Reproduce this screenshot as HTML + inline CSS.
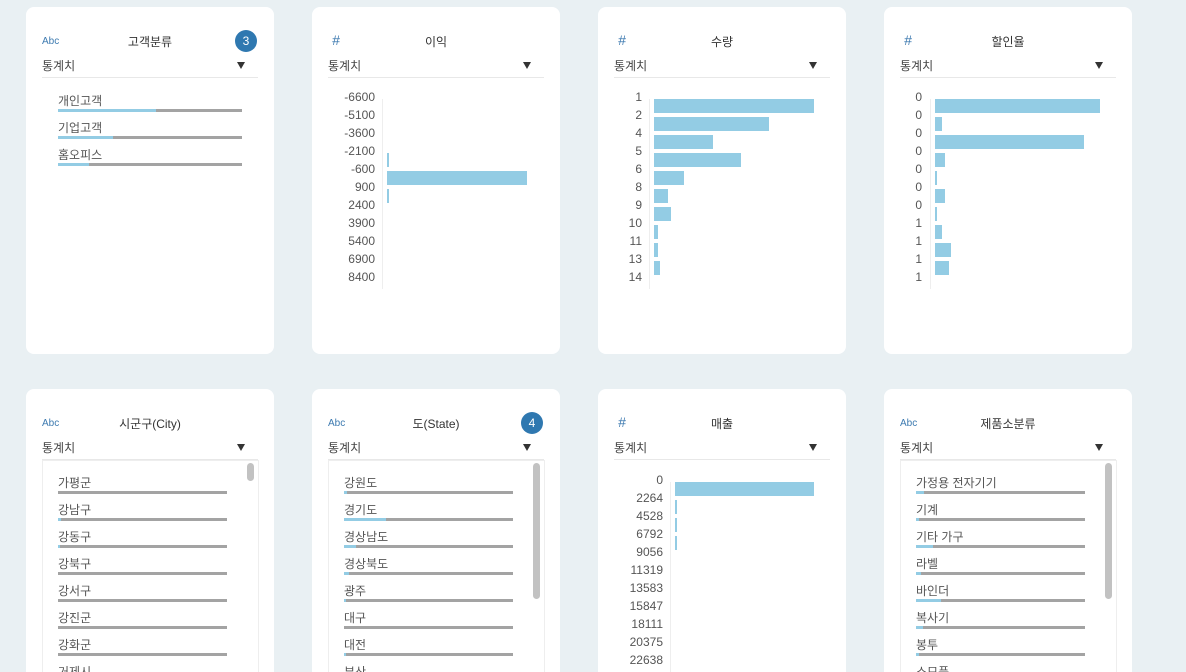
<!DOCTYPE html>
<html style="height:672px;overflow:hidden"><head><meta charset="utf-8">
<style>
html,body{overflow:hidden;}
body{margin:0;width:1186px;height:672px;background:#e9f0f3;position:relative;overflow:hidden;font-family:"Liberation Sans","Noto Sans CJK KR",sans-serif;color:#444;}
.card{position:absolute;background:#fff;border-radius:8px;width:248px;overflow:hidden;}
.card.bottom{border-radius:8px 8px 0 0;}
.abs{position:absolute;white-space:nowrap;}
.type{font-size:10px;color:#3d7ab0;}
.hash{font-size:14px;color:#3d7ab0;font-style:italic;}
.title{font-size:12px;color:#333;width:248px;text-align:center;left:0;}
.badge{width:22px;height:22px;border-radius:50%;background:#2f78b0;color:#fff;font-size:12px;text-align:center;line-height:22px;}
.stat{font-size:12px;color:#444;}
.arrow{width:0;height:0;border-left:4.5px solid transparent;border-right:4.5px solid transparent;border-top:7px solid #333;}
.sep{height:1px;background:#e8e8e8;}
.item{font-size:12px;color:#555;}
.track{height:3px;background:#a3a3a3;}
.fill{height:3px;background:#93cce4;position:absolute;left:0;top:0;}
.lbl{font-size:12px;color:#555;text-align:right;width:60px;}
.bar{background:#93cce4;}
.box{border:1px solid #eee;border-bottom:none;}
.thumb{background:#c2c2c2;border-radius:4px;width:7px;}
</style></head><body>
<script>
// data
const segNames=['개인고객','기업고객','홈오피스'];
const segVals=[0.53,0.3,0.17];
const profitTicks=['-6600','-5100','-3600','-2100','-600','900','2400','3900','5400','6900','8400'];
const profitCounts=[0,0,0,2,140,2,0,0,0,0];
const qtyTicks=['1','2','4','5','6','8','9','10','11','13','14'];
const qtyCounts=[160,115,59,87,30,14,17,4,4,6];
const discTicks=['0','0','0','0','0','0','0','1','1','1','1'];
const discCounts=[165,7,149,10,2,10,2,7,16,14];
const cityNames=['가평군','강남구','강동구','강북구','강서구','강진군','강화군','거제시'];
const cityVals=[0.0,0.02,0.01,0.0,0.0,0.0,0.0,0.0];
const stateNames=['강원도','경기도','경상남도','경상북도','광주','대구','대전','부산'];
const stateVals=[0.02,0.25,0.07,0.03,0.01,0.0,0.01,0.05];
const salesTicks=['0','2264','4528','6792','9056','11319','13583','15847','18111','20375','22638'];
const salesCounts=[139,2,2,2,0,0,0,0,0,0];
const prodNames=['가정용 전자기기','기계','기타 가구','라벨','바인더','복사기','봉투','소모품'];
const prodVals=[0.05,0.02,0.1,0.03,0.15,0.04,0.02,0.03];

function mk(parent,cls,x,y,txt){const e=document.createElement('div');e.className='abs '+cls;e.style.left=x+'px';e.style.top=y+'px';if(txt!==undefined)e.textContent=txt;parent.appendChild(e);return e;}
function card(x,y,h,type,title,badge,name){
  const c=document.createElement('div');c.className='card'+(y>300?' bottom':'');c.style.left=x+'px';c.style.top=y+'px';c.style.height=h+'px';
  
  
  document.body.appendChild(c);
  const t=type==='#'?mk(c,'hash',20,25,type):mk(c,'type',16,29,type);
  
  
  const ti=mk(c,'title',0,26,title);
  
  
  if(badge){const b=mk(c,'badge',209,23,badge);
    
    }
  const s=mk(c,'stat',16,50,'통계치');
  
  
  const a=mk(c,'arrow',211,55);
  
  
  const sp=mk(c,'sep',16,70);sp.style.width='216px';
  return c;
}
function list(c,names,vals,y0,x0,w,scroll,thumbH){
  if(scroll){const bx=mk(c,'box',16,71);bx.style.width='215px';bx.style.height='240px';
    const th=mk(c,'thumb',221,74);th.style.height=thumbH+'px';
    
    }
  names.forEach((n,i)=>{
    const it=mk(c,'item',x0,y0+27*i,n);
    
    
    const tr=mk(c,'track',x0,y0+27*i+17);tr.style.width=w+'px';
    const f=document.createElement('div');f.className='fill';f.style.width=(vals[i]*w)+'px';tr.appendChild(f);
    
    
  });
}
function hist(c,ticks,counts,labRight,y0,axisX,maxW,maxC){
  const ax=mk(c,'',axisX,y0+2);ax.style.width='1px';ax.style.height=(18*(ticks.length-1)+10)+'px';ax.style.background='#eee';
  ticks.forEach((t,i)=>{const l=mk(c,'lbl',labRight-60,y0+18*i-7,t);
    
    });
  counts.forEach((v,i)=>{
    if(v<=0)return;
    const b=mk(c,'bar',axisX+5,y0+18*i+2);
    b.style.width=Math.max(1.5,v/maxC*maxW)+'px';b.style.height='14px';
    
    
  });
}
let c;
c=card(26,7,347,'Abc','고객분류','3','segment-card');list(c,segNames,segVals,85,32,184,false);
c=card(312,7,347,'#','이익','','profit-card');hist(c,profitTicks,profitCounts,63,90,70,140,140);
c=card(598,7,347,'#','수량','','quantity-card');hist(c,qtyTicks,qtyCounts,44,90,51,160,160);
c=card(884,7,347,'#','할인율','','discount-card');hist(c,discTicks,discCounts,38,90,46,165,165);
c=card(26,389,283,'Abc','시군구(City)','','city-card');list(c,cityNames,cityVals,85,32,169,true,18);
c=card(312,389,283,'Abc','도(State)','4','state-card');list(c,stateNames,stateVals,85,32,169,true,136);
c=card(598,389,283,'#','매출','','sales-card');hist(c,salesTicks,salesCounts,65,91,72,139,139);
c=card(884,389,283,'Abc','제품소분류','','product-card');list(c,prodNames,prodVals,85,32,169,true,136);
</script>
</body></html>
